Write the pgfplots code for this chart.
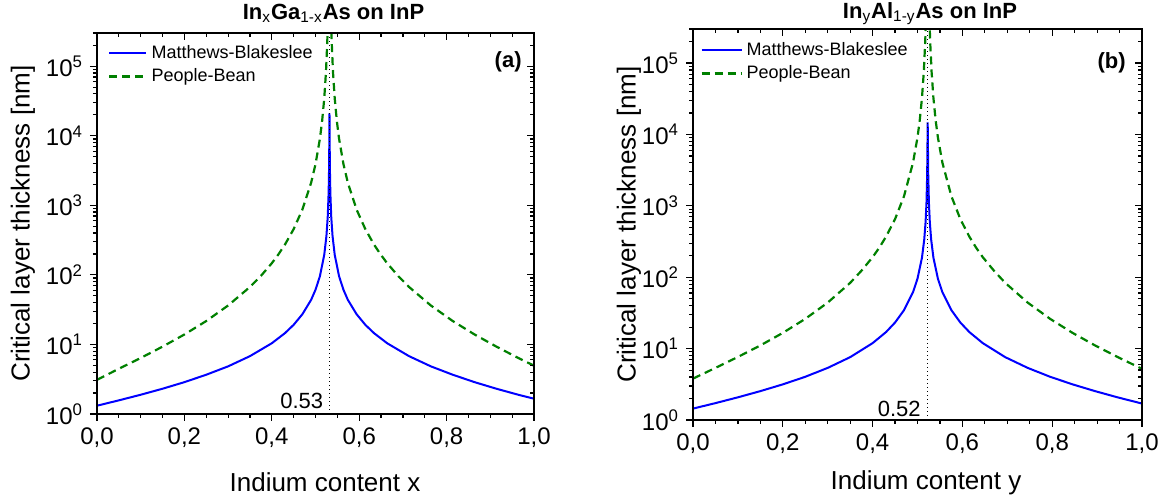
\documentclass[border=0pt]{standalone}
\usepackage{fontspec}
\setmainfont{Liberation Sans}
\usepackage{pgfplots}
\pgfplotsset{compat=1.18}
\definecolor{mbblue}{RGB}{0,0,255}
\definecolor{pbgreen}{RGB}{0,128,0}
\newcommand{\tenpow}[1]{10\textsuperscript{#1}}
\pgfplotsset{every axis/.append style={
    scale only axis,
    xmin=0, xmax=1, ymin=1, ymax=300000,
    axis line style={line width=0.75bp},
    major tick length=3.5bp, minor tick length=2bp,
    xtick={0,0.2,0.4,0.6,0.8,1},
    minor xtick={0.05,0.1,0.15,0.25,0.3,0.35,0.45,0.5,0.55,0.65,0.7,0.75,0.85,0.9,0.95},
    ytick={1,10,100,1000,10000,100000},
    minor ytick={2,3,4,5,6,7,8,9,20,30,40,50,60,70,80,90,200,300,400,500,600,700,800,900,2000,3000,4000,5000,6000,7000,8000,9000,20000,30000,40000,50000,60000,70000,80000,90000,200000,300000},
    tick style={black, line width=0.6bp},
}}
\begin{document}
\begin{tikzpicture}
\useasboundingbox (0,0) rectangle (588bp,249bp);
% ---------------- panel (a) ----------------
\begin{semilogyaxis}[at={(48.5bp,42bp)}, anchor=south west, width=218.5bp, height=190.5bp,
  xtick pos=left, ytick pos=left, tick align=outside,
  xticklabels={{0,0},{0,2},{0,4},{0,6},{0,8},{1,0}},
  yticklabels={\tenpow{0},\tenpow{1},\tenpow{2},\tenpow{3},\tenpow{4},\tenpow{5}},
  tick label style={font=\fontsize{12bp}{14bp}\selectfont},
  xlabel={Indium content x}, ylabel={Critical layer thickness [nm]},
  xlabel style={at={(axis description cs:0.5,0)}, anchor=base, yshift=-38.5bp, xshift=4.75bp, font=\fontsize{13bp}{15bp}\selectfont},
  ylabel style={at={(axis description cs:-0.1693,0.5)}, anchor=center, font=\fontsize{13bp}{15bp}\selectfont},
  title={\textbf{In\textsubscript{\mdseries x}Ga\textsubscript{\mdseries 1-x}As on InP}},
  title style={at={(axis description cs:0.5,1)}, anchor=base, yshift=1bp, xshift=9bp, font=\fontsize{11bp}{13bp}\selectfont},
  legend cell align=left,
  legend style={draw=none, fill=none, font=\fontsize{9bp}{11bp}\selectfont, at={(axis description cs:0,1)}, anchor=north west, xshift=5.5bp, yshift=-5bp, inner sep=0pt, row sep=1.5bp, column sep=1bp, nodes={inner sep=1bp}},
  legend image code/.code={\draw[#1] (0bp,0bp) -- (18.5bp,0bp);},
]
\addplot[color=mbblue, line width=1bp, mark=none] coordinates {
(0,1.316) (0.05,1.571) (0.10,1.892) (0.15,2.308) (0.20,2.870) (0.25,3.67) (0.30,4.84) (0.35,6.79) (0.40,10.40) (0.43,14.52) (0.45,19.15) (0.47,27.2) (0.49,43.8) (0.50,61.0) (0.51,95.2) (0.52,194) (0.525,362) (0.528,686) (0.530,1496) (0.531,3247) (0.5315,6978) (0.532,21000) (0.5325,6978) (0.533,3247) (0.534,1496) (0.536,686) (0.539,362) (0.544,194) (0.554,95.2) (0.564,61.0) (0.574,43.8) (0.594,27.2) (0.614,19.15) (0.634,14.52) (0.664,10.40) (0.714,6.79) (0.764,4.84) (0.814,3.67) (0.864,2.870) (0.914,2.308) (0.964,1.892) (1.0,1.66)
};
\addlegendentry{Matthews-Blakeslee}
\addplot[color=pbgreen, line width=1.1bp, mark=none, dash pattern=on 4bp off 2.5bp] coordinates {
(0,3.10) (0.05,4.47) (0.10,6.39) (0.15,9.30) (0.20,13.9) (0.25,21.7) (0.30,36.3) (0.35,67.0) (0.375,96.6) (0.40,147) (0.415,196.5) (0.43,272) (0.45,455) (0.47,869) (0.49,2112) (0.50,3899) (0.51,9005) (0.515,15929) (0.52,34321) (0.524,83203) (0.527,230740) (0.528,373500) (0.532,10000000) (0.536,373500) (0.537,230740) (0.540,83203) (0.544,34321) (0.549,15929) (0.554,9005) (0.564,3899) (0.574,2112) (0.594,869) (0.614,455) (0.634,272) (0.649,196.5) (0.664,147) (0.689,96.6) (0.714,67.0) (0.764,36.3) (0.814,21.7) (0.864,13.9) (0.914,9.30) (0.964,6.39) (1.0,4.95)
};
\addlegendentry{People-Bean}
\addplot[black, line width=0.6bp, dash pattern=on 0.6bp off 1.4bp, forget plot] coordinates {(0.532,1) (0.532,300000)};
\node[anchor=base east, font=\fontsize{11bp}{13bp}\selectfont, inner sep=0pt, xshift=-3bp, yshift=3bp] at (axis cs:0.532,1) {0.53};
\node[anchor=east, font=\bfseries\fontsize{11bp}{13bp}\selectfont, inner sep=0pt, xshift=-6bp, yshift=-14.5bp] at (rel axis cs:1,1) {(a)};
\end{semilogyaxis}
\begin{semilogyaxis}[at={(48.5bp,42bp)}, anchor=south west, width=218.5bp, height=190.5bp,
  xtick pos=right, ytick pos=right, tick align=inside, xticklabels={}, yticklabels={}]
\addplot[draw=none, forget plot] coordinates {(0.5,10)};
\end{semilogyaxis}
% ---------------- panel (b) ----------------
\begin{semilogyaxis}[at={(346.5bp,39bp)}, anchor=south west, width=224.5bp, height=195.5bp,
  xtick pos=left, ytick pos=left, tick align=outside,
  xticklabels={{0,0},{0,2},{0,4},{0,6},{0,8},{1,0}},
  yticklabels={\tenpow{0},\tenpow{1},\tenpow{2},\tenpow{3},\tenpow{4},\tenpow{5}},
  tick label style={font=\fontsize{12bp}{14bp}\selectfont},
  xlabel={Indium content y}, ylabel={Critical layer thickness [nm]},
  xlabel style={at={(axis description cs:0.5,0)}, anchor=base, yshift=-34.5bp, xshift=4.25bp, font=\fontsize{13bp}{15bp}\selectfont},
  ylabel style={at={(axis description cs:-0.1425,0.5)}, anchor=center, font=\fontsize{13bp}{15bp}\selectfont},
  title={\textbf{In\textsubscript{\mdseries y}Al\textsubscript{\mdseries 1-y}As on InP}},
  title style={at={(axis description cs:0.5,1)}, anchor=base, yshift=-0.63bp, xshift=6.25bp, font=\fontsize{11bp}{13bp}\selectfont},
  legend cell align=left,
  legend style={draw=none, fill=none, font=\fontsize{9bp}{11bp}\selectfont, at={(axis description cs:0,1)}, anchor=north west, xshift=3.5bp, yshift=-5.5bp, inner sep=0pt, row sep=1.5bp, column sep=1bp, nodes={inner sep=1bp}},
  legend image code/.code={\draw[#1] (0bp,0bp) -- (20bp,0bp);},
]
\addplot[color=mbblue, line width=1bp, mark=none] coordinates {
(0,1.445) (0.05,1.724) (0.10,2.078) (0.15,2.538) (0.20,3.156) (0.25,4.03) (0.30,5.37) (0.35,7.59) (0.40,11.93) (0.43,17.07) (0.45,23.2) (0.47,34.6) (0.49,61.8) (0.50,95.6) (0.51,188.7) (0.515,337) (0.518,593) (0.520,1108) (0.5215,2753) (0.5222,7263) (0.5227,14800) (0.5232,7263) (0.5239,2753) (0.5254,1108) (0.5274,593) (0.5304,337) (0.5354,188.7) (0.5454,95.6) (0.5554,61.8) (0.5754,34.6) (0.5954,23.2) (0.6154,17.07) (0.6454,11.93) (0.6954,7.59) (0.7454,5.37) (0.7954,4.03) (0.8454,3.156) (0.8954,2.538) (0.9454,2.078) (1.0,1.70)
};
\addlegendentry{Matthews-Blakeslee}
\addplot[color=pbgreen, line width=1.1bp, mark=none, dash pattern=on 4bp off 2.5bp] coordinates {
(0,3.80) (0.05,5.37) (0.10,7.64) (0.15,11.08) (0.20,16.6) (0.25,26.1) (0.30,44.1) (0.35,83.3) (0.375,123) (0.40,190.8) (0.415,260) (0.43,370.8) (0.45,652) (0.47,1367) (0.49,4026) (0.50,9095) (0.505,15785) (0.51,32778) (0.514,75020) (0.517,187870) (0.518,285100) (0.5185,370000) (0.5227,10000000) (0.5269,370000) (0.5274,285100) (0.5284,187870) (0.5314,75020) (0.5354,32778) (0.5404,15785) (0.5454,9095) (0.5554,4026) (0.5754,1367) (0.5954,652) (0.6154,370.8) (0.6304,260) (0.6454,190.8) (0.6704,123) (0.6954,83.3) (0.7454,44.1) (0.7954,26.1) (0.8454,16.6) (0.8954,11.08) (0.9454,7.64) (1.0,5.21)
};
\addlegendentry{People-Bean}
\addplot[black, line width=0.6bp, dash pattern=on 0.6bp off 1.4bp, forget plot] coordinates {(0.5227,1) (0.5227,300000)};
\node[anchor=base east, font=\fontsize{11bp}{13bp}\selectfont, inner sep=0pt, xshift=-3.3bp, yshift=2bp] at (axis cs:0.5227,1) {0.52};
\node[anchor=east, font=\bfseries\fontsize{11bp}{13bp}\selectfont, inner sep=0pt, xshift=-8bp, yshift=-16.75bp] at (rel axis cs:1,1) {(b)};
\end{semilogyaxis}
\begin{semilogyaxis}[at={(346.5bp,39bp)}, anchor=south west, width=224.5bp, height=195.5bp,
  xtick pos=right, ytick pos=right, tick align=inside, xticklabels={}, yticklabels={}]
\addplot[draw=none, forget plot] coordinates {(0.5,10)};
\end{semilogyaxis}
\end{tikzpicture}
\end{document}
